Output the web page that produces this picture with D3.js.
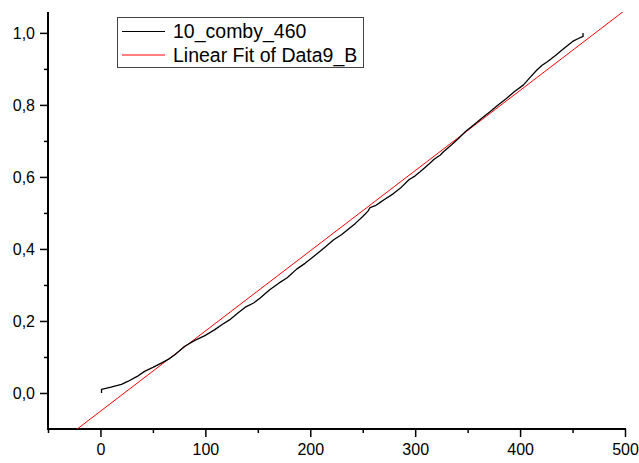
<html>
<head>
    <title>Linear Fit</title>
    <style>
      body { margin: 0; background: #fff; }
    </style>
</head>
<body>
<svg width='639' height='463'></svg>
<script src="https://d3js.org/d3.v7.min.js"></script>
<script>

var curveX = [1, 1, 10, 20, 26, 35, 42, 50, 58, 65, 71, 80, 90, 100, 109, 116, 123, 131, 139, 146,
  152, 161, 170, 178, 187, 195, 202, 214, 222, 230, 243, 250, 255, 257, 262, 267, 271, 279, 286, 294,
  300, 305, 314, 318, 324, 327, 335, 341, 348, 356, 364, 371, 379, 387, 395, 403, 410, 416, 421, 426,
  434, 442, 451, 456, 459, 460, 460];
var curveY = [0.000, 0.010, 0.016, 0.024, 0.032, 0.046, 0.060, 0.071, 0.083, 0.094, 0.106, 0.129, 0.146, 0.160, 0.176, 0.190, 0.203, 0.222, 0.240, 0.250,
  0.263, 0.286, 0.305, 0.320, 0.344, 0.360, 0.376, 0.405, 0.425, 0.440, 0.471, 0.490, 0.505, 0.515, 0.520, 0.530, 0.538, 0.553, 0.569, 0.592,
  0.603, 0.615, 0.638, 0.649, 0.661, 0.670, 0.690, 0.706, 0.726, 0.745, 0.764, 0.780, 0.800, 0.818, 0.838, 0.855, 0.878, 0.897, 0.910, 0.920,
  0.938, 0.957, 0.978, 0.985, 0.989, 0.990, 1.000];

// linear fit end points
var fitX = [-50, 500];
var fitY = [-0.162, 1.063];

var xMajor = [0, 100, 200, 300, 400, 500];
var xMinor = [-50, 50, 150, 250, 350, 450];
var yMajor = [0, 0.2, 0.4, 0.6, 0.8, 1.0];
var yMinor = [0.1, 0.3, 0.5, 0.7, 0.9];
var seriesNames = ["10_comby_460", "Linear Fit of Data9_B"];
var seriesColors = ["#000000", "#ff0000"];

var svg = d3.select('svg');
var font = "Arial, 'Liberation Sans', sans-serif";

var x = d3.scaleLinear().domain([-50, 500]).range([48, 625]);
var y = d3.scaleLinear().domain([-0.1, 1.058]).range([429, 12]);

svg.append("rect").attr("width", 639).attr("height", 463).style("fill", "white");

svg.append("defs").append("clipPath").attr("id", "plotclip")
  .append("rect")
  .attr("x", x.range()[0]).attr("y", y.range()[1])
  .attr("width", x.range()[1] - x.range()[0])
  .attr("height", y.range()[0] - y.range()[1]);

var comma = function(d){ return d3.format(".1f")(d).replace(".", ","); };

// y axis
var yAxis = svg.append("g").attr("transform", "translate(" + x.range()[0] + ",0)")
  .call(d3.axisLeft(y).tickValues(yMajor).tickSize(8).tickPadding(5).tickFormat(comma));
var yMin = svg.append("g").attr("transform", "translate(" + x.range()[0] + ",0)")
  .call(d3.axisLeft(y).tickValues(yMinor).tickSize(4).tickFormat(""));

// x axis
var xAxis = svg.append("g").attr("transform", "translate(0," + y.range()[0] + ")")
  .call(d3.axisBottom(x).tickValues(xMajor).tickSize(8).tickPadding(7).tickFormat(d3.format("d")));
var xMin = svg.append("g").attr("transform", "translate(0," + y.range()[0] + ")")
  .call(d3.axisBottom(x).tickValues(xMinor).tickSize(4).tickFormat(""));

[yAxis, yMin, xAxis, xMin].forEach(function(g){
  g.select(".domain").remove();
  g.selectAll(".tick line").attr("stroke", "black").attr("stroke-width", 1.5);
  g.selectAll("text").attr("font-family", font).attr("font-size", "16px").attr("fill", "black");
});

// axis lines
svg.append("line")
  .attr("x1", x.range()[0]).attr("x2", x.range()[0])
  .attr("y1", y.range()[1]).attr("y2", y.range()[0] + 1)
  .attr("stroke", "black").attr("stroke-width", 2);
svg.append("line")
  .attr("x1", x.range()[0] - 1).attr("x2", x.range()[1] + 1)
  .attr("y1", y.range()[0]).attr("y2", y.range()[0])
  .attr("stroke", "black").attr("stroke-width", 2);

var line = d3.line().x(function(d){ return x(d[0]); }).y(function(d){ return y(d[1]); });

svg.append("path")
  .datum(d3.zip(fitX, fitY))
  .attr("clip-path", "url(#plotclip)")
  .attr("d", line)
  .attr("fill", "none")
  .attr("stroke", seriesColors[1])
  .attr("stroke-width", 1);

svg.append("path")
  .datum(d3.zip(curveX, curveY))
  .attr("d", line)
  .attr("fill", "none")
  .attr("stroke", seriesColors[0])
  .attr("stroke-width", 1.3)
  .attr("stroke-linejoin", "round");

// legend
var leg = svg.append("g");
leg.append("rect")
  .attr("x", 117.5).attr("y", 17.5).attr("width", 246).attr("height", 50)
  .attr("fill", "white").attr("stroke", "#444").attr("stroke-width", 1);

leg.selectAll("line.key")
  .data(seriesNames)
  .enter()
  .append("line")
  .attr("x1", 122).attr("x2", 165)
  .attr("y1", function(d, i){ return 31.5 + i * 23.5; })
  .attr("y2", function(d, i){ return 31.5 + i * 23.5; })
  .attr("stroke", function(d, i){ return seriesColors[i]; })
  .attr("stroke-width", 1);

leg.selectAll("text.key")
  .data(seriesNames)
  .enter()
  .append("text")
  .text(function(d){ return d; })
  .attr("x", 173)
  .attr("y", function(d, i){ return 38 + i * 23.5; })
  .attr("font-family", font)
  .attr("font-size", "19.5px")
  .attr("fill", "black");

</script>
</body>
</html>
